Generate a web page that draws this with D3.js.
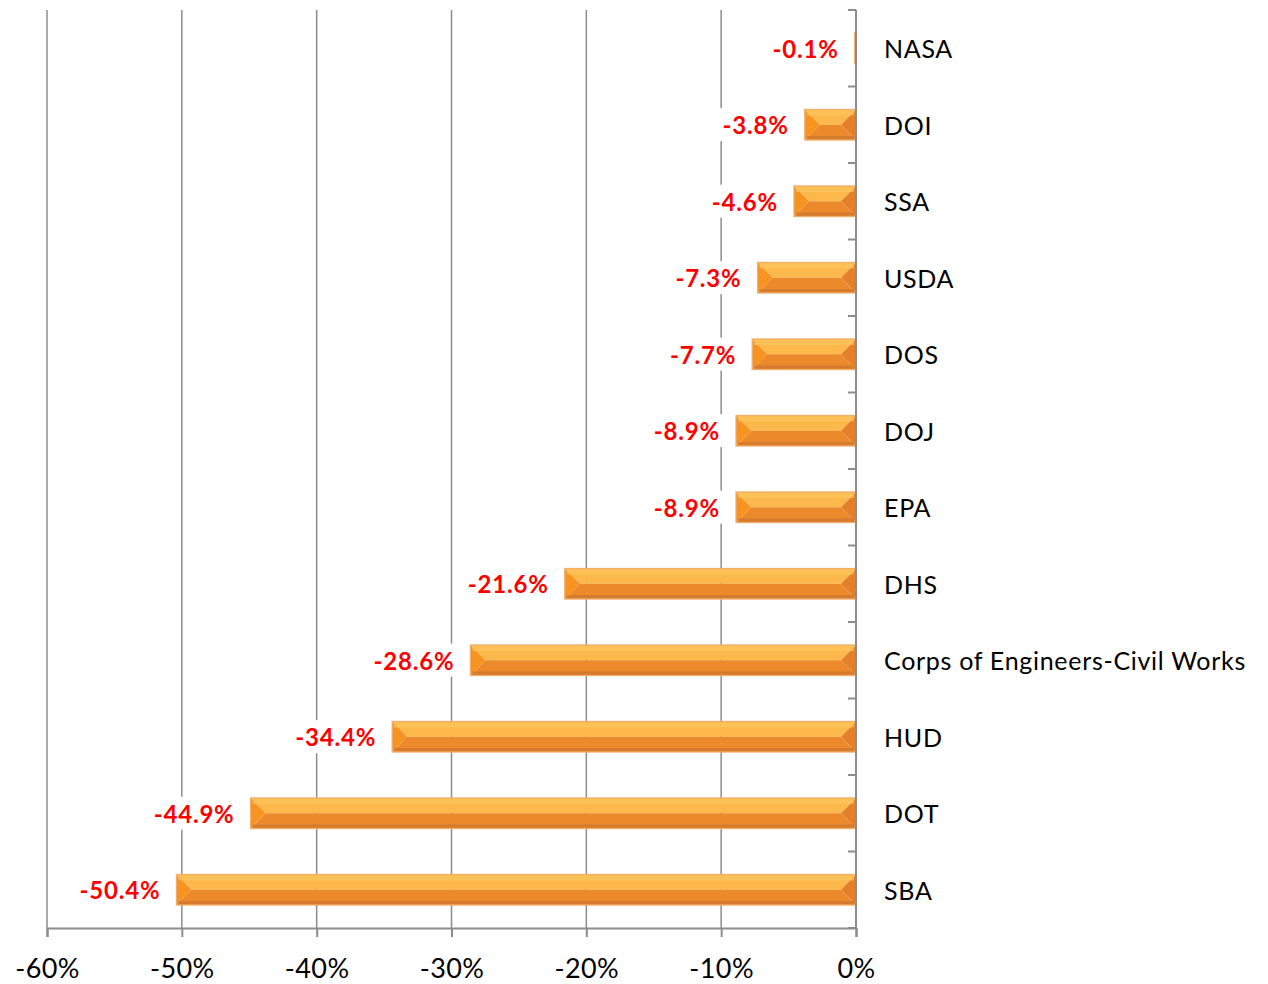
<!DOCTYPE html>
<html>
<head>
<meta charset="utf-8">
<script src="https://cdn.jsdelivr.net/npm/d3@7"></script>
<style>
  body { margin: 0; background: #fff; }
  svg { display: block; }
</style>
</head>
<body>
<div id="chart"></div>
<script>
// agencies, top to bottom
const categories = ["NASA", "DOI", "SSA", "USDA", "DOS", "DOJ", "EPA", "DHS",
  "Corps of Engineers-Civil Works", "HUD", "DOT", "SBA"];
// percent change
const values = [-0.1, -3.8, -4.6, -7.3, -7.7, -8.9, -8.9, -21.6, -28.6, -34.4, -44.9, -50.4];
const xTicks = [-60, -50, -40, -30, -20, -10, 0];

const width = 1268, height = 984;
const font = "Lato, 'Open Sans', sans-serif";

const svg = d3.select("#chart").append("svg")
  .attr("width", width)
  .attr("height", height);

const x = d3.scaleLinear().domain([-60, 0]).range([47, 856]);
const y = d3.scaleBand().domain(categories).range([10, 928])
  .paddingInner(0.6).paddingOuter(0.3);

// gridlines
svg.append("g").selectAll("line")
  .data(xTicks.slice(0, -1))
  .enter().append("line")
  .attr("x1", d => x(d)).attr("x2", d => x(d))
  .attr("y1", 10).attr("y2", 928)
  .attr("stroke", "#8c8c8c")
  .attr("stroke-width", 1.5);

// bottom axis
const xAxis = svg.append("g")
  .attr("transform", "translate(0,928)")
  .call(d3.axisBottom(x).tickValues(xTicks).tickSize(9).tickPadding(22)
    .tickFormat(d => d + "%"));
xAxis.select(".domain").attr("stroke", "#8c8c8c").attr("stroke-width", 2);
xAxis.selectAll(".tick line").attr("stroke", "#8c8c8c").attr("stroke-width", 2);
xAxis.selectAll("text")
  .attr("font-family", font)
  .attr("font-size", 27)
  .attr("letter-spacing", 0.4)
  .attr("fill", "#000");

// bars with a bevel look
const bars = svg.append("g").selectAll("g")
  .data(values.map((v, i) => ({ cat: categories[i], v })))
  .enter().append("g");

bars.each(function (d) {
  const g = d3.select(this);
  const x0 = x(d.v), x1 = x(0);
  const y0 = y(d.cat), y1 = y0 + y.bandwidth(), ym = (y0 + y1) / 2;
  const b = Math.min(15, (x1 - x0) / 2);
  const poly = pts => pts.map(p => p.join(",")).join(" ");

  g.append("polygon") // top face
    .attr("points", poly([[x0, y0], [x1, y0], [x1 - b, ym], [x0 + b, ym]]))
    .attr("fill", "#fcb84a");
  g.append("polygon") // bottom face
    .attr("points", poly([[x0, y1], [x1, y1], [x1 - b, ym], [x0 + b, ym]]))
    .attr("fill", "#ec892b");
  g.append("polygon") // left bevel
    .attr("points", poly([[x0, y0], [x0 + b, ym], [x0, y1]]))
    .attr("fill", "#f7931f");
  g.append("polygon") // right bevel
    .attr("points", poly([[x1, y0], [x1 - b, ym], [x1, y1]]))
    .attr("fill", "#e5802a");
  g.append("rect") // top highlight
    .attr("x", x0 + 2).attr("y", y0 + 1)
    .attr("width", Math.max(0, x1 - x0 - 4)).attr("height", 5)
    .attr("fill", "#fec860").attr("opacity", 0.6);
  g.append("rect") // bottom shade
    .attr("x", x0 + 2).attr("y", y1 - 4)
    .attr("width", Math.max(0, x1 - x0 - 4)).attr("height", 3)
    .attr("fill", "#c97530").attr("opacity", 0.7);
  g.append("rect") // outline
    .attr("x", x0).attr("y", y0)
    .attr("width", x1 - x0).attr("height", y.bandwidth())
    .attr("fill", "none")
    .attr("stroke", "#f0ad6e")
    .attr("stroke-width", 1.2);
});

// value labels on a white patch (hides gridlines like the original)
const labels = svg.append("g").selectAll("g")
  .data(values)
  .enter().append("g")
  .attr("transform", (d, i) =>
    "translate(" + (x(d) - 16) + "," + (y(categories[i]) + y.bandwidth() / 2 + 1) + ")");

labels.append("text")
  .attr("dy", "0.35em")
  .attr("text-anchor", "end")
  .attr("font-family", font)
  .attr("font-weight", "bold")
  .attr("font-size", 24)
  .attr("letter-spacing", 0.8)
  .attr("fill", "#ff0000")
  .text(d => d.toFixed(1) + "%");

labels.each(function () {
  const g = d3.select(this);
  const bb = g.select("text").node().getBBox();
  g.insert("rect", "text")
    .attr("x", bb.x - 3).attr("y", bb.y - 2)
    .attr("width", bb.width + 6).attr("height", bb.height + 4)
    .attr("fill", "#fff");
});

// right axis (zero line) with category ticks
const step = y.step();
svg.append("line")
  .attr("x1", x(0)).attr("x2", x(0))
  .attr("y1", 10).attr("y2", 928)
  .attr("stroke", "#8c8c8c").attr("stroke-width", 2);
svg.append("g").selectAll("line")
  .data(d3.range(categories.length + 1))
  .enter().append("line")
  .attr("x1", x(0) - 8).attr("x2", x(0))
  .attr("y1", k => 10 + k * step).attr("y2", k => 10 + k * step)
  .attr("stroke", "#8c8c8c").attr("stroke-width", 2);

// category labels
svg.append("g").selectAll("text")
  .data(categories)
  .enter().append("text")
  .attr("x", x(0) + 28)
  .attr("y", d => y(d) + y.bandwidth() / 2 + 1)
  .attr("dy", "0.35em")
  .attr("font-family", font)
  .attr("font-size", 25)
  .attr("letter-spacing", 0.7)
  .attr("fill", "#000")
  .text(d => d);
</script>
</body>
</html>
